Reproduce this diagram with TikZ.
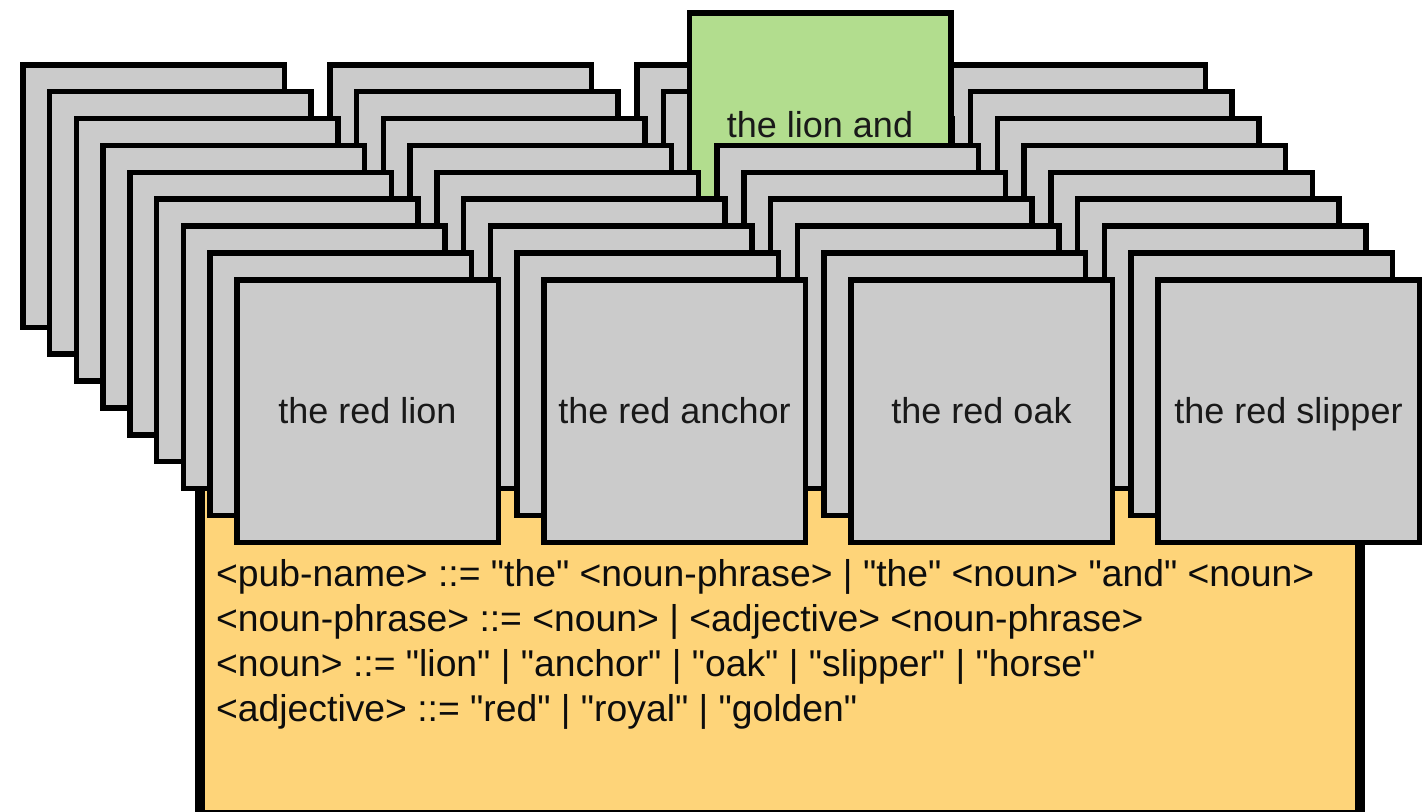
\documentclass[tikz,border=0pt]{standalone}
\usepackage{fontspec}
\setmainfont{Liberation Sans}[Ligatures=TeXOff]
\begin{document}
\definecolor{cardgray}{HTML}{CBCBCB}
\definecolor{pickgreen}{HTML}{B2DD8E}
\definecolor{rulebg}{HTML}{FED479}
\begin{tikzpicture}[x=1pt,y=-1pt,
  card/.style={draw=black, fill=cardgray, line width=5.5pt, inner sep=0pt,
    minimum width=261.5pt, minimum height=262.5pt},
  picked/.style={card, fill=pickgreen},
  cardlabel/.style={anchor=base, inner sep=0pt, text=black!90, font=\fontsize{36}{42}\selectfont},
  ruleline/.style={anchor=base west, inner sep=0pt, text=black!95, font=\fontsize{37.3}{44}\selectfont}]
\useasboundingbox (0,0) rectangle (1423,811);

% grammar panel behind the card decks
\node[draw=black, fill=rulebg, line width=10pt, inner sep=0pt,
  minimum width=1160pt, minimum height=330pt] (grammar) at (780,650) {};

% four decks of nine cards, drawn back to front
\foreach \i in {0,...,8}{
  \foreach \s in {0,...,3}{
    \pgfmathsetmacro{\cx}{20+307*\s+26.75*\i+133.5}
    \pgfmathsetmacro{\cy}{62+26.875*\i+134}
    \node[card] (c-\s-\i) at (\cx,\cy) {};
  }
  % the card pulled up out of the third deck
  \ifnum\i=2
    \node[picked] (pick) at (820,144) {};
    \node[cardlabel] (pick-text) at (820,137) {the lion and};
  \fi
}

% labels on the front cards
\node[cardlabel] (l0) at (c-0-8.center) [yshift=-12pt] {the red lion};
\node[cardlabel] (l1) at (c-1-8.center) [yshift=-12pt] {the red anchor};
\node[cardlabel] (l2) at (c-2-8.center) [yshift=-12pt] {the red oak};
\node[cardlabel] (l3) at (c-3-8.center) [yshift=-12pt] {the red slipper};

% grammar rules
\node[ruleline] (g1) at (216,586) {<pub-name> ::= "the" <noun-phrase> | "the" <noun> "and" <noun>};
\node[ruleline] (g2) at (216,631) {<noun-phrase> ::= <noun> | <adjective> <noun-phrase>};
\node[ruleline] (g3) at (216,676) {<noun> ::= "lion" | "anchor" | "oak" | "slipper" | "horse"};
\node[ruleline] (g4) at (216,721) {<adjective> ::= "red" | "royal" | "golden"};
\end{tikzpicture}
\end{document}
